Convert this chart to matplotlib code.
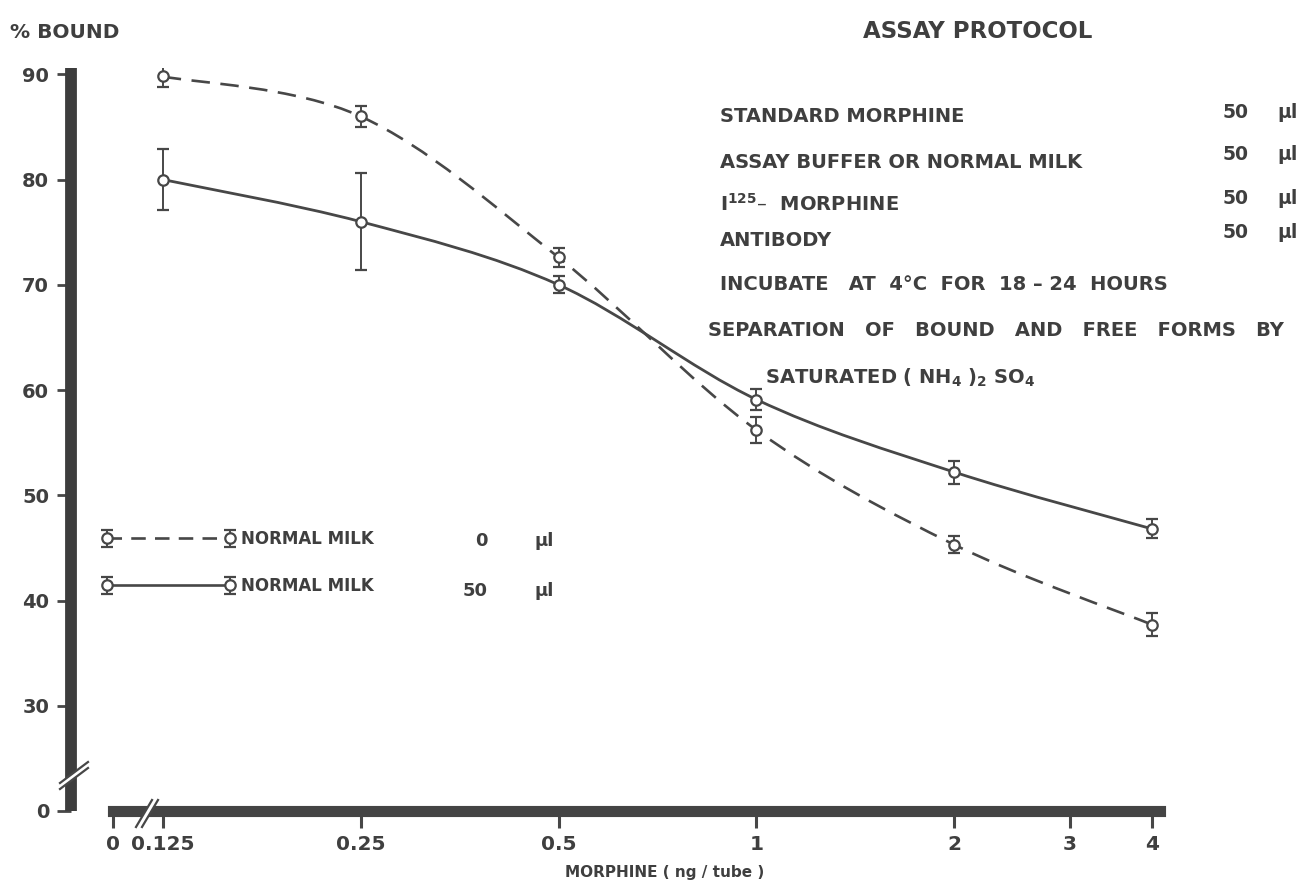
import numpy as np
import matplotlib
matplotlib.use("Agg")
import matplotlib.pyplot as plt
from matplotlib.path import Path
from matplotlib.patches import PathPatch, Polygon
from matplotlib.lines import Line2D

# 吗啡剂量 (ng/tube) 与结合率 (%)
dose = [0.125, 0.25, 0.5, 1, 2, 4]
bound_milk0 = [89.8, 86.0, 72.6, 56.2, 45.3, 37.7]
err_milk0 = [1.0, 1.0, 0.9, 1.2, 0.8, 1.1]
bound_milk50 = [80.0, 76.0, 70.0, 59.1, 52.2, 46.8]
err_milk50 = [2.9, 4.6, 0.8, 1.0, 1.1, 0.9]

x_ticks = [0.125, 0.25, 0.5, 1, 2, 3, 4]
x_ticklabels = ["0.125", "0.25", "0.5", "1", "2", "3", "4"]
y_ticks = [30, 40, 50, 60, 70, 80, 90]

protocol_steps = ["STANDARD MORPHINE", "ASSAY BUFFER OR NORMAL MILK",
                  "I$^{125}$\u2013  MORPHINE", "ANTIBODY"]
protocol_volumes = ["50", "50", "50", "50"]
protocol_notes = ["INCUBATE   AT  4\u00b0C  FOR  18 \u2013 24  HOURS",
                  "SEPARATION   OF   BOUND   AND   FREE   FORMS   BY",
                  "SATURATED ( NH$_4$ )$_2$ SO$_4$"]
legend_labels = ["NORMAL MILK", "NORMAL MILK"]
legend_volumes = ["0", "50"]

W, H = 1306, 889
INK = "#474747"
TXT = "#3f3f3f"

plt.rcParams["font.family"] = ["DejaVu Sans"]
plt.rcParams["font.weight"] = "bold"
plt.rcParams["mathtext.fontset"] = "dejavusans"
plt.rcParams["mathtext.default"] = "bf"


def px(x, y):
    # 像素坐标 -> figure 坐标
    return x / W, 1 - y / H


def smooth_path(xs, ys):
    # 在 (log2 x, y) 空间做 Catmull-Rom 平滑, 转成三次贝塞尔
    u = np.log2(xs)
    y = np.asarray(ys, dtype=float)
    uu = np.concatenate([[u[0]], u, [u[-1]]])
    yy = np.concatenate([[y[0]], y, [y[-1]]])
    verts = [(xs[0], y[0])]
    codes = [Path.MOVETO]
    for i in range(1, len(u)):
        c1u = uu[i] + (uu[i + 1] - uu[i - 1]) / 6
        c1y = yy[i] + (yy[i + 1] - yy[i - 1]) / 6
        c2u = uu[i + 1] - (uu[i + 2] - uu[i]) / 6
        c2y = yy[i + 1] - (yy[i + 2] - yy[i]) / 6
        verts += [(2 ** c1u, c1y), (2 ** c2u, c2y), (xs[i], y[i])]
        codes += [Path.CURVE4] * 3
    return Path(verts, codes)


fig = plt.figure(figsize=(W / 100, H / 100), dpi=100)
l, b = px(113, 811)
r, t = px(1160, 68)
ax = fig.add_axes([l, b, r - l, t - b])

XMIN = 0.105
ax.set_xscale("log", base=2)
ax.set_xlim(XMIN, 4.11)
ax.set_ylim(20, 90.6)

# 曲线
ax.add_patch(PathPatch(smooth_path(dose, bound_milk0), fill=False, edgecolor=INK,
                       lw=1.9, linestyle=(0, (7, 4)), zorder=2))
ax.add_patch(PathPatch(smooth_path(dose, bound_milk50), fill=False, edgecolor=INK,
                       lw=2.0, zorder=2))

eb0 = ax.errorbar(dose, bound_milk0, yerr=err_milk0, fmt="o", ls=(0, (5.5, 3.5)), lw=1.9,
                  color=INK, mfc="white", mec=INK, ms=7.5, mew=1.6,
                  elinewidth=1.4, capsize=4.5, capthick=1.8, zorder=3, label=legend_labels[0])
eb1 = ax.errorbar(dose, bound_milk50, yerr=err_milk50, fmt="o", ls="-", lw=1.9,
                  color=INK, mfc="white", mec=INK, ms=7.5, mew=1.6,
                  elinewidth=1.4, capsize=4.5, capthick=1.8, zorder=3, label=legend_labels[1])

leg = ax.legend(handles=[eb0, eb1], loc="upper left", bbox_to_anchor=px(102, 530),
                bbox_transform=fig.transFigure, frameon=False, numpoints=2,
                handlelength=8.0, handletextpad=0.35, labelspacing=1.75,
                borderpad=0, borderaxespad=0, prop={"size": 12, "weight": "bold"})
for txt in leg.get_texts():
    txt.set_color(TXT)
# 图例已复制样式后, 隐藏数据点之间的直线
eb0[0].set_linestyle("none")
eb1[0].set_linestyle("none")

for vol, yy in zip(legend_volumes, [541, 591]):
    fig.text(*px(488, yy), vol, ha="right", va="center", fontsize=13, color=TXT)
    fig.text(*px(535, yy), "\u00b5l", ha="left", va="center", fontsize=13, color=TXT)

# 坐标轴
for side in ["top", "right"]:
    ax.spines[side].set_visible(False)
ax.spines["left"].set_position(("outward", 30))
ax.spines["left"].set_linewidth(8.5)
ax.spines["bottom"].set_linewidth(8)
ax.spines["left"].set_color("#3d3d3d")
ax.spines["bottom"].set_color("#444444")
ax.spines["left"].set_capstyle("butt")

ax.set_yticks([20] + y_ticks)
ax.set_yticklabels(["0"] + [str(v) for v in y_ticks])
ax.set_xticks([XMIN] + x_ticks)
ax.set_xticklabels(["0"] + x_ticklabels)
ax.xaxis.set_minor_locator(matplotlib.ticker.NullLocator())
ax.tick_params(axis="y", length=10, width=2, color=INK, pad=6, labelsize=14, labelcolor=TXT)
ax.tick_params(axis="x", length=12, width=2.2, color=INK, pad=5, labelsize=14.5, labelcolor=TXT)
for lab in ax.get_xticklabels() + ax.get_yticklabels():
    lab.set_fontweight("bold")

# 断轴标记
def break_mark(p1, p2, dx, dy):
    (x1, y1), (x2, y2) = p1, p2
    quad = [px(x1, y1), px(x2, y2), px(x2 + dx, y2 + dy), px(x1 + dx, y1 + dy)]
    fig.patches.append(Polygon(quad, closed=True, transform=fig.transFigure,
                               facecolor="white", edgecolor="none", zorder=5))
    for ox, oy in [(0, 0), (dx, dy)]:
        fig.lines.append(Line2D([px(x1 + ox, y1 + oy)[0], px(x2 + ox, y2 + oy)[0]],
                                [px(x1 + ox, y1 + oy)[1], px(x2 + ox, y2 + oy)[1]],
                                transform=fig.transFigure, color=INK, lw=1.6, zorder=6))

break_mark((60, 789), (88, 768), 0, -6)
break_mark((136, 827), (152, 800), 6, 0)

# 文字
fig.text(*px(10, 32), "% BOUND", ha="left", va="center", fontsize=14.5, color=TXT)
fig.text(*px(978, 32), "ASSAY PROTOCOL", ha="center", va="center", fontsize=16.5,
         color=TXT)
for step, vol, ys, yv in zip(protocol_steps, protocol_volumes,
                             [117, 163, 204, 240], [112, 154, 198, 233]):
    fig.text(*px(720, ys), step, ha="left", va="center", fontsize=14, color=TXT)
    fig.text(*px(1249, yv), vol, ha="right", va="center", fontsize=13.5, color=TXT)
    fig.text(*px(1277, yv), "\u00b5l", ha="left", va="center", fontsize=13.5, color=TXT)
for note, xn, yn in zip(protocol_notes, [720, 708, 765], [284, 331, 378]):
    fig.text(*px(xn, yn), note, ha="left", va="center", fontsize=14, color=TXT)

fig.text(*px(665, 873), "MORPHINE ( ng / tube )", ha="center", va="center",
         fontsize=11, color=TXT)

fig.savefig("out.png", dpi=100, facecolor="white")
